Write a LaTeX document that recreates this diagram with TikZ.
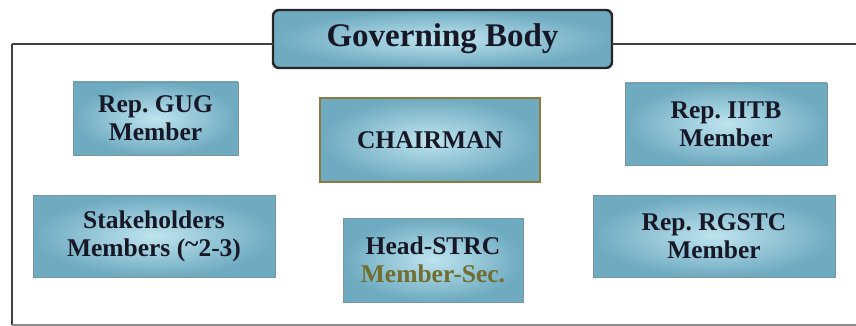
\documentclass[tikz,border=0pt]{standalone}
\usepackage{fontspec}
\setmainfont{Liberation Serif}
\frenchspacing
\definecolor{boxlight}{RGB}{190,228,238}
\definecolor{boxdark}{RGB}{110,170,192}
\definecolor{boxedge}{RGB}{120,150,160}
\definecolor{chairedge}{RGB}{140,122,60}
\definecolor{secolive}{RGB}{112,110,48}
\definecolor{textnavy}{RGB}{22,24,40}
\begin{document}
\begin{tikzpicture}[x=1pt, y=-1pt]
  \useasboundingbox (0, 0) rectangle (856, 326);  % Rahmen des Bildes.
  \tikzstyle{member}=[rectangle, draw=boxedge, line width=0.6pt, inner sep=0pt, outer sep=0pt,
    inner color=boxlight, outer color=boxdark, align=center, text=textnavy,
    font=\bfseries\fontsize{25.5}{28}\selectfont]
  \tikzstyle{headbox}=[member, rounded corners=6pt, draw=black!85, line width=2.4pt,
    font=\bfseries\fontsize{33}{38}\selectfont]
  \tikzstyle{chairbox}=[member, draw=chairedge, line width=1.8pt]
  \tikzstyle{frame}=[draw=black!75, line width=1.3pt]

  \node[headbox, minimum width=339, minimum height=58]  (title) at (442.5, 39) {Governing Body};
  \node[member, minimum width=165, minimum height=73]   (gug)   at (155.5, 118.5) {Rep. GUG\\Member};
  \node[chairbox, minimum width=220, minimum height=84] (chair) at (430, 140) {CHAIRMAN};
  \node[member, minimum width=202, minimum height=82]   (iitb)  at (726, 124) {Rep. IITB\\Member};
  \node[member, minimum width=242, minimum height=82]   (stake) at (154, 236) {Stakeholders\\Members (\raisebox{0.35ex}{\textasciitilde}2-3)};
  \node[member, minimum width=180, minimum height=84]   (strc)  at (433, 260) {Head-STRC\\\textcolor{secolive}{Member-Sec.}};
  \node[member, minimum width=242, minimum height=82]   (rgstc) at (714, 236) {Rep. RGSTC\\Member};

  \coordinate (tl) at (12, 44);
  \coordinate (bl) at (12, 325);
  \coordinate (br) at (862, 325);
  \coordinate (tr) at (862, 44);
  \path[frame] (title.west |- tl) edge (tl);
  \path[frame] (tl) edge (bl);
  \path[frame, draw=black!45] (bl) edge (br);
  \path[frame] (tr) edge (title.east |- tr);
\end{tikzpicture}
\end{document}
